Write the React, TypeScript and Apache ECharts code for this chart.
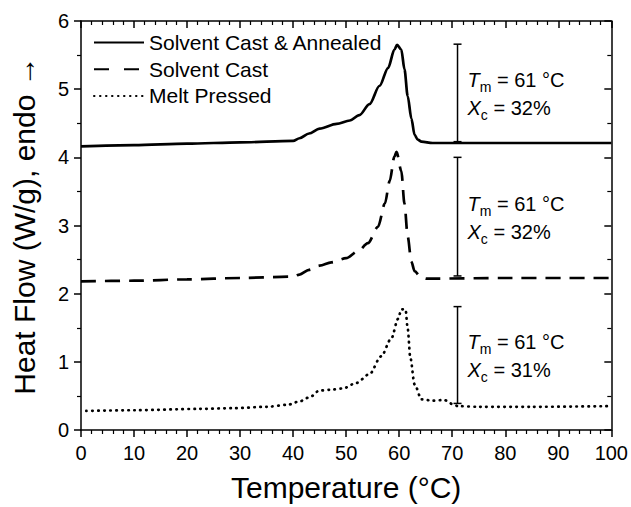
import React, { useEffect, useRef } from "react";
import * as echarts from "echarts";

const FONT = "'Liberation Sans', Arial, Helvetica, sans-serif";

const seriesNames = ["Solvent Cast & Annealed", "Solvent Cast", "Melt Pressed"];

// Solvent Cast & Annealed (solid)
const tempAnnealed = [0, 10, 20, 30, 40, 41.2, 43, 45, 48.2, 50.7, 52.5, 54.4, 56.3, 57.9, 59.1, 59.6, 60.4, 61.0, 61.6, 62.3, 62.9, 63.5, 64.2, 66.3, 80, 100];
const flowAnnealed = [4.16, 4.18, 4.2, 4.22, 4.24, 4.28, 4.35, 4.42, 4.49, 4.54, 4.62, 4.78, 5.05, 5.31, 5.58, 5.65, 5.58, 5.29, 4.9, 4.57, 4.33, 4.26, 4.23, 4.21, 4.21, 4.21];

// Solvent Cast (dashed)
const tempCast = [0, 10, 20, 30, 40, 41.2, 43, 45, 47.2, 50, 52.2, 54.1, 56, 57.3, 58.2, 59.1, 59.5, 60.4, 61.0, 61.6, 62.3, 62.9, 64, 65.1, 80, 100];
const flowCast = [2.18, 2.19, 2.21, 2.23, 2.25, 2.28, 2.35, 2.41, 2.46, 2.52, 2.62, 2.74, 2.98, 3.32, 3.65, 4.01, 4.08, 3.8, 3.32, 2.84, 2.47, 2.33, 2.25, 2.22, 2.23, 2.23];

// Melt Pressed (dotted)
const tempMelt = [1, 10, 22.4, 28.7, 35, 39, 41.2, 43.1, 45, 46.9, 49.4, 51.9, 54.4, 56.6, 58.5, 59.8, 60.4, 61.2, 61.6, 62.1, 62.9, 64.2, 66.3, 68.5, 70.1, 71.1, 75, 85, 100];
const flowMelt = [0.28, 0.29, 0.31, 0.32, 0.34, 0.37, 0.42, 0.48, 0.58, 0.59, 0.61, 0.69, 0.82, 1.08, 1.34, 1.63, 1.77, 1.77, 1.49, 1.06, 0.67, 0.45, 0.43, 0.44, 0.38, 0.35, 0.34, 0.34, 0.35];

// Annotation bars (enthalpy span) and labels
const annotTemp = [71, 71, 71];
const annotLow = [4.23, 2.26, 0.39];
const annotHigh = [5.66, 4.0, 1.81];
const tmValues = ["61", "61", "61"];
const xcValues = ["32", "32", "31"];

const pairs = (xs: number[], ys: number[]) => xs.map((x, i) => [x, ys[i]]);

export default function App() {
  const ref = useRef<HTMLDivElement>(null);

  useEffect(() => {
    document.body.style.margin = "0";
    const chart = echarts.init(ref.current!, undefined, { renderer: "svg" });

    const axisLineStyle = { color: "#000", width: 1.5 };
    const tickStyle = { color: "#000", width: 1.5 };
    const minorStyle = { color: "#000", width: 1.2 };

    const option: any = {
      animation: false,
      backgroundColor: "#fff",
      textStyle: { fontFamily: FONT, color: "#000" },
      grid: { left: 81, right: 19, top: 21, bottom: 70.5, containLabel: false },
      legend: {
        data: [
          { name: seriesNames[0] },
          { name: seriesNames[1], lineStyle: { type: [15, 15] } },
          { name: seriesNames[2] },
        ],
        orient: "vertical",
        left: 88,
        top: 27,
        itemWidth: 50,
        itemHeight: 14,
        itemGap: 5.7,
        itemStyle: { color: "rgba(0,0,0,0)", borderColor: "rgba(0,0,0,0)", borderWidth: 0, opacity: 0 },
        textStyle: { fontSize: 21, color: "#000", fontFamily: FONT },
      },
      xAxis: [
        {
          type: "value",
          position: "bottom",
          min: 0,
          max: 100,
          interval: 10,
          axisLine: { show: true, onZero: false, lineStyle: axisLineStyle },
          axisTick: { show: true, inside: false, length: 7, lineStyle: tickStyle },
          minorTick: { show: true, splitNumber: 5, length: 4, lineStyle: minorStyle },
          axisLabel: { fontSize: 20, color: "#000", margin: 13, fontFamily: FONT },
          splitLine: { show: false },
          name: "Temperature (°C)",
          nameLocation: "middle",
          nameGap: 42,
          nameTextStyle: { fontSize: 30, color: "#000", fontFamily: FONT },
        },
        {
          type: "value",
          position: "top",
          min: 0,
          max: 100,
          interval: 10,
          axisLine: { show: true, onZero: false, lineStyle: axisLineStyle },
          axisTick: { show: true, inside: true, length: 7, lineStyle: tickStyle },
          minorTick: { show: true, splitNumber: 5, length: 4, lineStyle: minorStyle },
          axisLabel: { show: false },
          splitLine: { show: false },
        },
      ],
      yAxis: [
        {
          type: "value",
          position: "left",
          min: 0,
          max: 6,
          interval: 1,
          axisLine: { show: true, onZero: false, lineStyle: axisLineStyle },
          axisTick: { show: true, inside: false, length: 7, lineStyle: tickStyle },
          minorTick: { show: true, splitNumber: 2, length: 4, lineStyle: minorStyle },
          axisLabel: { fontSize: 20, color: "#000", margin: 12, fontFamily: FONT },
          splitLine: { show: false },
          name: "Heat Flow (W/g), endo →",
          nameLocation: "middle",
          nameGap: 42,
          nameTextStyle: { fontSize: 30, color: "#000", fontFamily: FONT },
        },
        {
          type: "value",
          position: "right",
          min: 0,
          max: 6,
          interval: 1,
          axisLine: { show: true, onZero: false, lineStyle: axisLineStyle },
          axisTick: { show: true, inside: true, length: 7, lineStyle: tickStyle },
          minorTick: { show: true, splitNumber: 2, length: 4, lineStyle: minorStyle },
          axisLabel: { show: false },
          splitLine: { show: false },
        },
      ],
      series: [
        {
          name: seriesNames[0],
          type: "line",
          data: pairs(tempAnnealed, flowAnnealed),
          symbol: "none",
          smooth: 0.3,
          smoothMonotone: "x",
          lineStyle: { color: "#000", width: 2.7, type: "solid" },
          itemStyle: { color: "#000" },
        },
        {
          name: seriesNames[1],
          type: "line",
          data: pairs(tempCast, flowCast),
          symbol: "none",
          smooth: 0.3,
          smoothMonotone: "x",
          lineStyle: { color: "#000", width: 2.7, type: [15, 9] },
          itemStyle: { color: "#000" },
        },
        {
          name: seriesNames[2],
          type: "line",
          data: pairs(tempMelt, flowMelt),
          symbol: "none",
          smooth: 0.3,
          smoothMonotone: "x",
          lineStyle: { color: "#000", width: 2.7, type: [0.5, 5.5], cap: "round" },
          itemStyle: { color: "#000" },
        },
        {
          type: "custom",
          silent: true,
          z: 10,
          encode: { x: 0, y: [1, 2] },
          data: annotTemp.map((t, i) => [t, annotLow[i], annotHigh[i]]),
          renderItem: (params: any, api: any) => {
            const i = params.dataIndex;
            const t = api.value(0);
            const pLo = api.coord([t, api.value(1)]);
            const pHi = api.coord([t, api.value(2)]);
            const cap = 4;
            const ls = { stroke: "#000", lineWidth: 1.5 };
            return {
              type: "group",
              children: [
                { type: "line", shape: { x1: pLo[0], y1: pLo[1], x2: pHi[0], y2: pHi[1] }, style: ls },
                { type: "line", shape: { x1: pLo[0] - cap, y1: pLo[1], x2: pLo[0] + cap, y2: pLo[1] }, style: ls },
                { type: "line", shape: { x1: pHi[0] - cap, y1: pHi[1], x2: pHi[0] + cap, y2: pHi[1] }, style: ls },
                {
                  type: "text",
                  x: pLo[0] + 10,
                  y: (pLo[1] + pHi[1]) / 2 + 1,
                  style: {
                    text: `{it|T}{sub|m}{n| = ${tmValues[i]} °C}\n{it|X}{sub|c}{n| = ${xcValues[i]}%}`,
                    align: "left",
                    verticalAlign: "middle",
                    fill: "#000",
                    fontFamily: FONT,
                    fontSize: 20,
                    rich: {
                      it: { fontStyle: "italic", fontSize: 20, lineHeight: 28, fontFamily: FONT, fill: "#000" },
                      sub: { fontSize: 14, lineHeight: 17, verticalAlign: "bottom", fontFamily: FONT, fill: "#000" },
                      n: { fontSize: 20, lineHeight: 28, fontFamily: FONT, fill: "#000" },
                    },
                  },
                },
              ],
            };
          },
        },
      ],
    };

    chart.setOption(option);
    return () => chart.dispose();
  }, []);

  return <div ref={ref} style={{ width: 631, height: 507 }} />;
}
